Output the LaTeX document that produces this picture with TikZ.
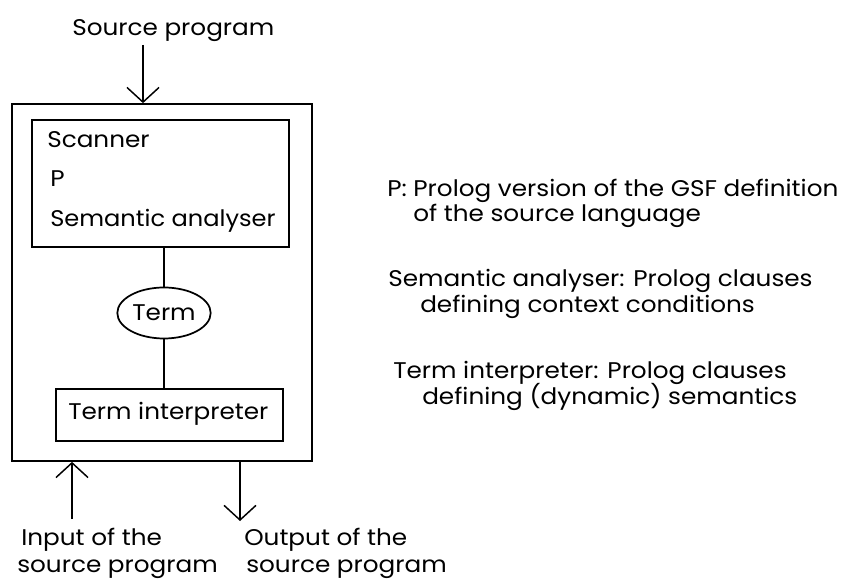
\documentclass[tikz,border=0pt]{standalone}
\usepackage{fontspec}
\setmainfont{Poppins}[FakeStretch=1.09]
\usetikzlibrary{arrows.meta,shapes.geometric,fit}
\begin{document}
\begin{tikzpicture}[x=0.75pt,y=-0.75pt,
  lbl/.style={anchor=base west,inner sep=0pt,font=\fontsize{17}{20}\selectfont},
  boxline/.style={draw,line width=1.3pt,inner sep=0pt},
  conn/.style={line width=1.1pt},
  arr/.style={line width=1.1pt,-{Straight Barb[length=11pt,width=24pt,line width=1.1pt]}}]
\useasboundingbox (0,0) rectangle (845,580);
% boxes
\node[boxline,fit={(12,104) (312,461)}] (outer) {};
\node[boxline,fit={(32,120) (289,247)}] (front) {};
\node[boxline,ellipse,minimum width=92*0.75pt,minimum height=51*0.75pt,inner xsep=1pt,font=\fontsize{17}{20}\selectfont] (term) at (164,313) {Term};
\node[boxline,fit={(56,389) (283,441)}] (interp) {};
% texts inside boxes
\node[lbl] (scan) at (47,148) {Scanner};
\node[lbl] (p) at (50,187) {P};
\node[lbl] (sem) at (50,227) {\scalebox{0.975}[1]{Semantic analyser}};
\node[lbl] (interptxt) at (68,420) {Term interpreter};
% outer labels
\node[lbl] (src) at (72,36) {Source program};
\node[lbl] (in1) at (21,545) {Input of the};
\node[lbl] (in2) at (17,572) {source program};
\node[lbl] (out1) at (244,545) {Output of the};
\node[lbl] (out2) at (246,572) {source program};
% explanations
\node[lbl] (e1a) at (387,197) {P: Prolog version of the GSF definition};
\node[lbl] (e1b) at (413,222) {of the source language};
\node[lbl] (e2a) at (388,287) {Semantic analyser: Prolog clauses};
\node[lbl] (e2b) at (420,313) {defining context conditions};
\node[lbl] (e3a) at (393,379) {Term interpreter: Prolog clauses};
\node[lbl] (e3b) at (422,405) {defining (dynamic) semantics};
% connectors
\draw[conn] (term.north |- front.south) -- (term.north);
\draw[conn] (term.south) -- (term.south |- interp.north);
\coordinate (srctop) at (143,45);
\draw[arr] (srctop) -- (srctop |- outer.north);
\coordinate (inbot) at (72,519);
\draw[arr] (inbot) -- (inbot |- outer.south);
\coordinate (outbot) at (240,521);
\draw[arr] (outbot |- outer.south) -- (outbot);
\end{tikzpicture}
\end{document}
